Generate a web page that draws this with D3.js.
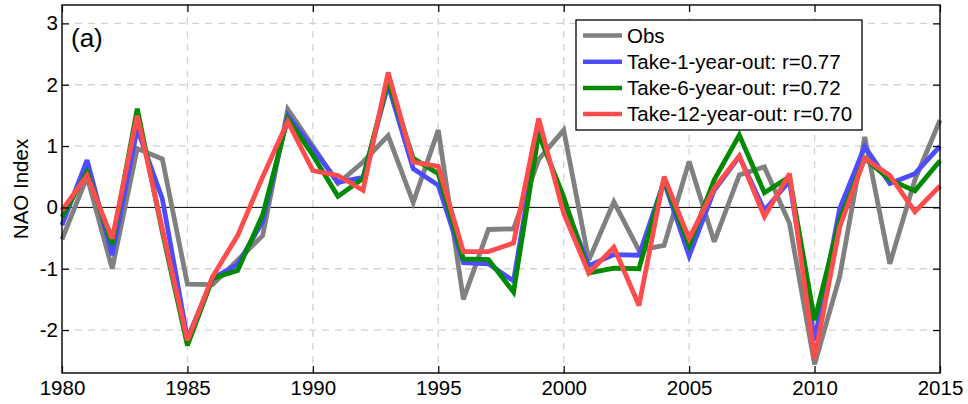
<!DOCTYPE html>
<html>
<head>
<meta charset="utf-8">
<script src="https://cdn.jsdelivr.net/npm/d3@7"></script>
<style>
  body { margin: 0; background: #fff; }
  text { font-family: "Liberation Sans", Arial, sans-serif; }
</style>
</head>
<body>
<div id="chart"></div>
<script>
(function(){

const years = d3.range(1980, 2016);

const obs = [-0.52, 0.5, -1.0, 0.96, 0.79, -1.25, -1.26, -0.86, -0.46, 1.6,
  1.0, 0.39, 0.74, 1.17, 0.08, 1.26, -1.5, -0.36, -0.35, 0.78,
  1.26, -0.86, 0.09, -0.7, -0.62, 0.75, -0.56, 0.53, 0.66, -0.26,
  -2.56, -1.13, 1.15, -0.92, 0.45, 1.42];

const take1 = [-0.29, 0.77, -0.78, 1.28, 0.14, -2.14, -1.16, -0.93, -0.23, 1.5,
  0.96, 0.41, 0.49, 2.0, 0.63, 0.36, -0.9, -0.92, -1.2, 1.25,
  0.1, -0.95, -0.77, -0.78, 0.42, -0.79, 0.28, 0.83, -0.05, 0.43,
  -2.17, -0.02, 0.99, 0.39, 0.55, 1.0];

const take6 = [-0.16, 0.58, -0.6, 1.61, -0.4, -2.25, -1.16, -1.03, -0.12, 1.45,
  0.85, 0.18, 0.47, 2.07, 0.8, 0.55, -0.84, -0.85, -1.38, 1.2,
  0.17, -1.07, -0.99, -1.0, 0.45, -0.62, 0.45, 1.18, 0.24, 0.5,
  -1.84, -0.2, 0.8, 0.45, 0.27, 0.76];

const take12 = [-0.05, 0.52, -0.51, 1.5, -0.35, -2.17, -1.13, -0.46, 0.5, 1.4,
  0.6, 0.52, 0.28, 2.2, 0.74, 0.67, -0.72, -0.72, -0.58, 1.45,
  -0.1, -1.07, -0.65, -1.6, 0.5, -0.51, 0.31, 0.84, -0.15, 0.55,
  -2.46, -0.32, 0.8, 0.52, -0.07, 0.35];

const seriesNames = ["Obs", "Take-1-year-out: r=0.77", "Take-6-year-out: r=0.72", "Take-12-year-out: r=0.70"];
const seriesValues = [obs, take1, take6, take12];
const seriesColors = ["#808080", "#4d4dff", "#008a00", "#ff4d4d"];

const xTicks = [1980, 1985, 1990, 1995, 2000, 2005, 2010, 2015];
const yTicks = [-2, -1, 0, 1, 2, 3];

const width = 968;
const height = 404;
const margin = {top:5, right:28, bottom:31, left:62};

const svg = d3.select("#chart")
  .append("svg")
  .attr("width", width)
  .attr("height", height);

const x = d3.scaleLinear()
  .domain([1980, 2015])
  .range([margin.left, width - margin.right]);

const y = d3.scaleLinear()
  .domain([-2.7, 3.3])
  .range([height - margin.bottom, margin.top]);

// dashed grid
svg.append("g")
  .selectAll("line")
  .data(xTicks.slice(1, -1))
  .enter()
  .append("line")
  .attr("x1", d => x(d)).attr("x2", d => x(d))
  .attr("y1", margin.top).attr("y2", height - margin.bottom)
  .attr("stroke", "#d4d4d4")
  .attr("stroke-width", 1.3)
  .attr("stroke-dasharray", "7,6");

svg.append("g")
  .selectAll("line")
  .data(yTicks.filter(d => d !== 0))
  .enter()
  .append("line")
  .attr("x1", margin.left).attr("x2", width - margin.right)
  .attr("y1", d => y(d)).attr("y2", d => y(d))
  .attr("stroke", "#d4d4d4")
  .attr("stroke-width", 1.3)
  .attr("stroke-dasharray", "7,6");

// zero line
svg.append("line")
  .attr("x1", margin.left).attr("x2", width - margin.right)
  .attr("y1", y(0)).attr("y2", y(0))
  .attr("stroke", "#000")
  .attr("stroke-width", 1);

// series
const line = d3.line()
  .x((d, i) => x(years[i]))
  .y(d => y(d));

seriesValues.forEach((vals, k) => {
  svg.append("path")
    .datum(vals)
    .attr("fill", "none")
    .attr("stroke", seriesColors[k])
    .attr("stroke-width", 4.8)
    .attr("stroke-linejoin", "miter")
    .attr("stroke-miterlimit", 3)
    .attr("d", line);
});

// axes (ticks pointing inward, MATLAB style)
const fontSize = "20.5px";

svg.append("g")
  .attr("transform", `translate(0,${height - margin.bottom})`)
  .call(d3.axisBottom(x).tickValues(xTicks).tickFormat(d3.format("d"))
    .tickSizeInner(-7).tickSizeOuter(0).tickPadding(7));

svg.append("g")
  .attr("transform", `translate(${margin.left},0)`)
  .call(d3.axisLeft(y).tickValues(yTicks).tickFormat(d => String(d).replace("\u2212", "-"))
    .tickSizeInner(-7).tickSizeOuter(0).tickPadding(4));

svg.append("g")
  .attr("transform", `translate(0,${margin.top})`)
  .call(d3.axisTop(x).tickValues(xTicks).tickFormat("").tickSizeInner(-7).tickSizeOuter(0));

svg.append("g")
  .attr("transform", `translate(${width - margin.right},0)`)
  .call(d3.axisRight(y).tickValues(yTicks).tickFormat("").tickSizeInner(-7).tickSizeOuter(0));

svg.selectAll(".domain").remove();
svg.selectAll(".tick line").attr("stroke", "#000").attr("stroke-width", 1.2);
svg.selectAll(".tick text")
  .attr("fill", "#000")
  .style("font-size", fontSize)
  .style("font-family", "'Liberation Sans', Arial, sans-serif");

// frame
svg.append("rect")
  .attr("x", margin.left)
  .attr("y", margin.top)
  .attr("width", width - margin.left - margin.right)
  .attr("height", height - margin.top - margin.bottom)
  .attr("fill", "none")
  .attr("stroke", "#000")
  .attr("stroke-width", 1.4);

// y label
svg.append("text")
  .attr("transform", `translate(28,${(margin.top + height - margin.bottom) / 2}) rotate(-90)`)
  .attr("text-anchor", "middle")
  .style("font-size", fontSize)
  .text("NAO Index");

// panel tag
svg.append("text")
  .attr("x", 71)
  .attr("y", 47)
  .style("font-size", "26px")
  .text("(a)");

// legend
const legend = svg.append("g").attr("transform", "translate(576,20)");

legend.append("rect")
  .attr("width", 286)
  .attr("height", 110)
  .attr("fill", "#fff")
  .attr("stroke", "#000")
  .attr("stroke-width", 1.3);

const rows = legend.selectAll(".row")
  .data(seriesNames)
  .enter()
  .append("g")
  .attr("transform", (d, i) => `translate(0,${15.5 + i * 26.2})`);

rows.append("line")
  .attr("x1", 7).attr("x2", 46)
  .attr("stroke", (d, i) => seriesColors[i])
  .attr("stroke-width", 4.5);

rows.append("text")
  .attr("x", 51)
  .attr("y", 7)
  .style("font-size", fontSize)
  .text(d => d);

})();
</script>
</body>
</html>
